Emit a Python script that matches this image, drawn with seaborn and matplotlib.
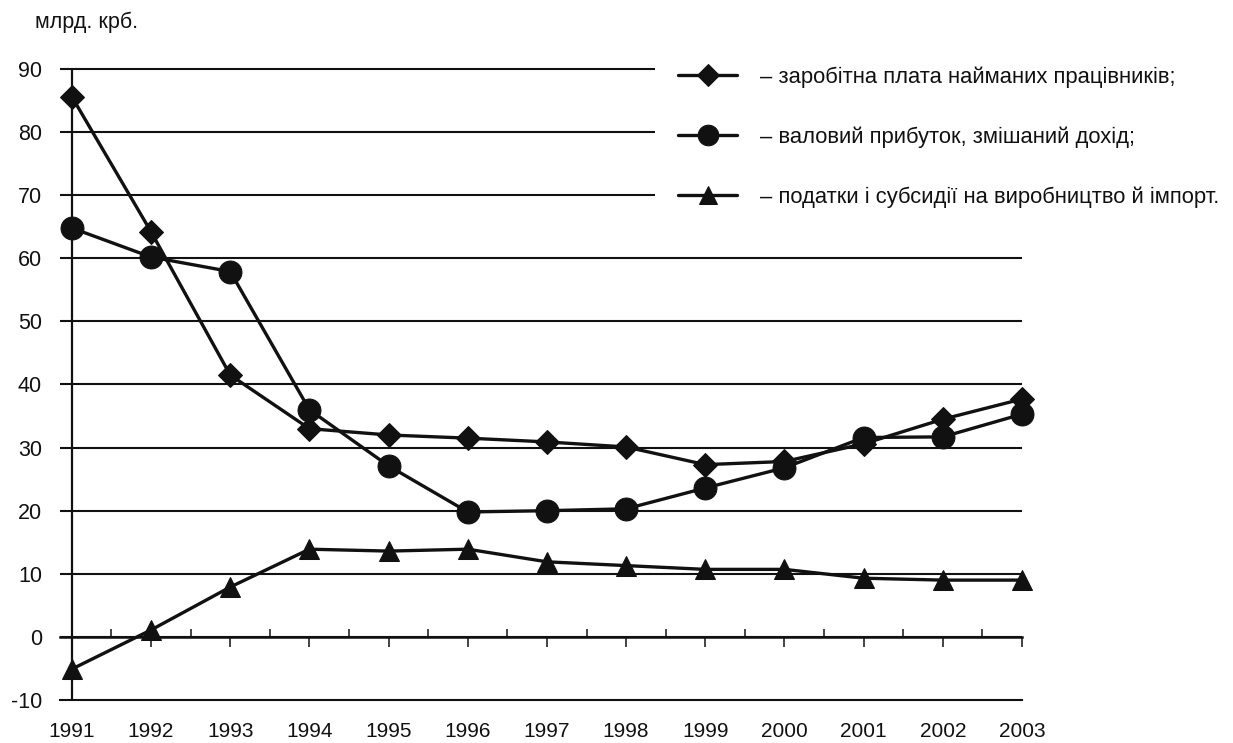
import numpy as np
import pandas as pd
import matplotlib
matplotlib.use("Agg")
import matplotlib.pyplot as plt
import seaborn as sns
from matplotlib.ticker import FixedLocator, NullFormatter

years = [1991, 1992, 1993, 1994, 1995, 1996, 1997, 1998, 1999, 2000, 2001, 2002, 2003]
wages = [85.6, 64.2, 41.5, 33.0, 32.0, 31.5, 30.9, 30.1, 27.3, 27.8, 30.6, 34.5, 37.7]
profit = [64.8, 60.2, 57.9, 36.0, 27.1, 19.8, 20.0, 20.3, 23.6, 26.8, 31.6, 31.7, 35.3]
taxes = [-5.1, 1.1, 7.9, 13.9, 13.6, 13.9, 11.9, 11.3, 10.7, 10.7, 9.3, 9.0, 9.0]

labels = ["– заробітна плата найманих працівників;",
          "– валовий прибуток, змішаний дохід;",
          "– податки і субсидії на виробництво й імпорт."]
yticks = [-10, 0, 10, 20, 30, 40, 50, 60, 70, 80, 90]
unit_label = "млрд. крб."

sns.set_theme(style="white")
plt.rcParams['font.family'] = ['Liberation Sans', 'DejaVu Sans']

W, H = 1233, 743
fig = plt.figure(figsize=(W / 100, H / 100), dpi=100)
ax = fig.add_axes([60 / W, 1 - 700 / H, (1022 - 60) / W, (700 - 69) / H])

df = pd.DataFrame({"year": years * 3,
                   "value": wages + profit + taxes,
                   "series": [labels[0]] * 13 + [labels[1]] * 13 + [labels[2]] * 13})

markers = {labels[0]: "D", labels[1]: "o", labels[2]: "^"}
sizes = {labels[0]: 12.5, labels[1]: 16.5, labels[2]: 15}
for lab in labels:
    sub = df[df.series == lab]
    sns.lineplot(data=sub, x="year", y="value", ax=ax, color="#111111",
                 linewidth=2.4, marker=markers[lab], markersize=sizes[lab],
                 markeredgecolor="#111111", markerfacecolor="#111111",
                 clip_on=False, label=lab, zorder=5)

xmin, xmax = 1990.85, 2003.0
ax.set_xlim(xmin, xmax)
ax.set_ylim(-10, 90)

# horizontal grid lines
for y in yticks:
    if y == -10:
        continue
    right = 1998.36 if y >= 70 else xmax
    ax.hlines(y, xmin, right, color="#111111", linewidth=1.5, zorder=1, clip_on=False)

# left vertical axis
ax.vlines(1991, -10, 90, color="#111111", linewidth=1.6, zorder=2)

for s in ["top", "right", "left"]:
    ax.spines[s].set_visible(False)
ax.spines["bottom"].set_color("#111111")
ax.spines["bottom"].set_linewidth(1.5)

ax.set_xticks(years)
ax.set_xticklabels([str(y) for y in years], fontsize=15, color="#111111")
ax.tick_params(axis="x", length=0, pad=16)
ax.set_yticks(yticks)
ax.set_yticklabels([str(y) for y in yticks], fontsize=15.5, color="#111111")
ax.tick_params(axis="y", length=0, pad=13)
ax.set_xlabel("")
ax.set_ylabel("")

# zero line with ticks
sec = ax.secondary_xaxis(0.1)
sec.set_xticks(years)
sec.xaxis.set_major_formatter(NullFormatter())
sec.xaxis.set_minor_locator(FixedLocator([y + 0.5 for y in years[:-1]]))
sec.tick_params(which="major", direction="out", length=7, width=1.1, color="#111111")
sec.tick_params(which="minor", direction="in", length=6, width=1.1, color="#111111")
for s in sec.spines.values():
    s.set_visible(False)
sec.spines["bottom"].set_visible(True)
sec.spines["bottom"].set_linewidth(1.8)
sec.spines["bottom"].set_color("#111111")

ax.get_legend().remove()
handles, labs = ax.get_legend_handles_labels()
leg = fig.legend(handles, labs, loc="upper left",
                 bbox_to_anchor=(678 / W, 1 - 66 / H), frameon=False,
                 fontsize=15.8, handlelength=2.7, handletextpad=1.05,
                 labelspacing=1.76, borderaxespad=0, borderpad=0)
for t in leg.get_texts():
    t.set_color("#111111")
for h in leg.legend_handles:
    h.set_markersize(h.get_markersize() * 0.9)

fig.text(35 / W, 1 - 22 / H, unit_label, fontsize=15.5, va="center", ha="left", color="#111111")

fig.savefig("out.png", dpi=100, facecolor="white")
